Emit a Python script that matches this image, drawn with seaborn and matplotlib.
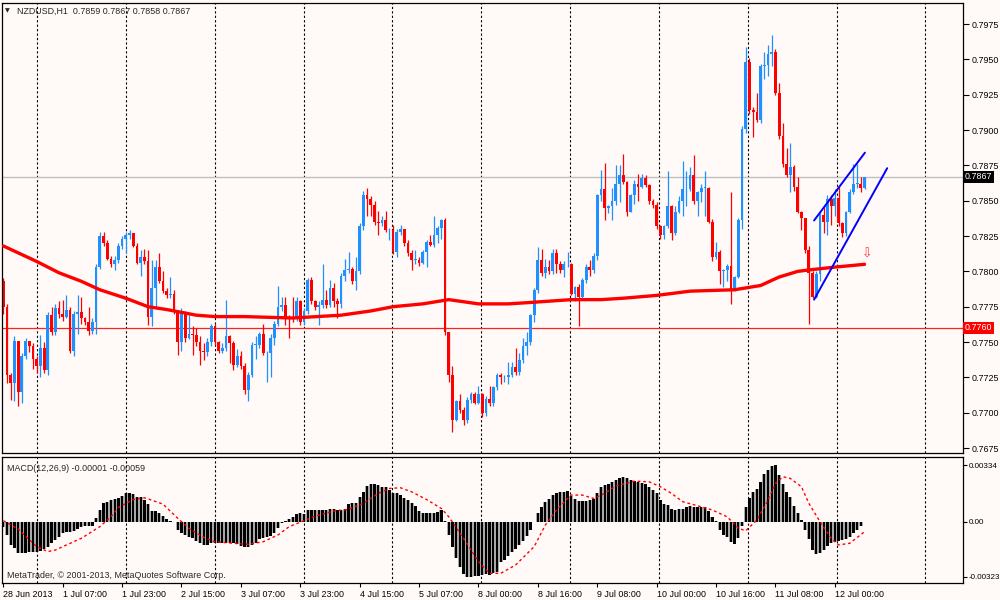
import numpy as np
import matplotlib
matplotlib.use("Agg")
import matplotlib.pyplot as plt
import matplotlib.transforms as mtransforms
import seaborn as sns

# ---- NZDUSD H1 candles
first_open = 0.7793
closes = [
    0.7775, 0.7727, 0.7721, 0.7751, 0.7715, 0.7740, 0.7751, 0.7747, 0.7738, 0.7733,
    0.7746, 0.7730, 0.7769, 0.7757, 0.7774, 0.7770, 0.7768, 0.7773, 0.7744, 0.7770,
    0.7771, 0.7767, 0.7764, 0.7758, 0.7764, 0.7803, 0.7825, 0.7820, 0.7809, 0.7805,
    0.7808, 0.7818, 0.7823, 0.7826, 0.7827, 0.7818, 0.7806, 0.7810, 0.7807, 0.7768,
    0.7788, 0.7803, 0.7793, 0.7786, 0.7783, 0.7784, 0.7771, 0.7750, 0.7770, 0.7753,
    0.7756, 0.7755, 0.7750, 0.7744, 0.7743, 0.7750, 0.7761, 0.7750, 0.7744, 0.7746,
    0.7754, 0.7749, 0.7734, 0.7740, 0.7733, 0.7716, 0.7727, 0.7748, 0.7748, 0.7756,
    0.7742, 0.7742, 0.7753, 0.7763, 0.7775, 0.7776, 0.7768, 0.7767, 0.7766, 0.7779,
    0.7764, 0.7772, 0.7794, 0.7779, 0.7775, 0.7776, 0.7780, 0.7776, 0.7788, 0.7779,
    0.7777, 0.7797, 0.7801, 0.7802, 0.7793, 0.7800, 0.7832, 0.7854, 0.7851, 0.7847,
    0.7835, 0.7834, 0.7836, 0.7829, 0.7829, 0.7814, 0.7828, 0.7830, 0.7820, 0.7813,
    0.7808, 0.7808, 0.7806, 0.7814, 0.7821, 0.7819, 0.7826, 0.7831, 0.7836, 0.7757,
    0.7727, 0.7695, 0.7708, 0.7702, 0.7695, 0.7709, 0.7713, 0.7707, 0.7713, 0.7700,
    0.7710, 0.7707, 0.7718, 0.7727, 0.7725, 0.7725, 0.7727, 0.7732, 0.7729, 0.7737,
    0.7747, 0.7750, 0.7769, 0.7787, 0.7808, 0.7799, 0.7803, 0.7800, 0.7813, 0.7805,
    0.7801, 0.7805, 0.7805, 0.7784, 0.7789, 0.7782, 0.7794, 0.7803, 0.7801, 0.7811,
    0.7854, 0.7858, 0.7845, 0.7846, 0.7850, 0.7862, 0.7868, 0.7863, 0.7842, 0.7854,
    0.7862, 0.7860, 0.7866, 0.7861, 0.7850, 0.7847, 0.7832, 0.7826, 0.7832, 0.7846,
    0.7827, 0.7842, 0.7850, 0.7858, 0.7858, 0.7868, 0.7850, 0.7856, 0.7859, 0.7859,
    0.7835, 0.7810, 0.7814, 0.7800, 0.7801, 0.7804, 0.7787, 0.7796, 0.7836, 0.7901,
    0.7948, 0.7914, 0.7913, 0.7907, 0.7945, 0.7946, 0.7954, 0.7955, 0.7926, 0.7896,
    0.7876, 0.7868, 0.7874, 0.7860, 0.7842, 0.7838, 0.7815, 0.7799, 0.7782, 0.7798,
    0.7840, 0.7835, 0.7851, 0.7846, 0.7852, 0.7834, 0.7827, 0.7842, 0.7856, 0.7862,
    0.7862, 0.7859, 0.7867,
]
highs = [
    0.7795, 0.7777, 0.7728, 0.7754, 0.7748, 0.7742, 0.7753, 0.7751, 0.7749, 0.7740,
    0.7755, 0.7750, 0.7771, 0.7775, 0.7777, 0.7779, 0.7780, 0.7783, 0.7775, 0.7772,
    0.7783, 0.7782, 0.7768, 0.7775, 0.7767, 0.7805, 0.7828, 0.7828, 0.7822, 0.7811,
    0.7811, 0.7820, 0.7825, 0.7828, 0.7829, 0.7827, 0.7820, 0.7815, 0.7816, 0.7815,
    0.7808, 0.7808, 0.7813, 0.7800, 0.7788, 0.7796, 0.7787, 0.7773, 0.7774, 0.7772,
    0.7769, 0.7761, 0.7760, 0.7754, 0.7749, 0.7753, 0.7763, 0.7763, 0.7751, 0.7749,
    0.7780, 0.7755, 0.7751, 0.7745, 0.7744, 0.7735, 0.7729, 0.7750, 0.7754, 0.7757,
    0.7763, 0.7744, 0.7756, 0.7765, 0.7790, 0.7782, 0.7782, 0.7769, 0.7782, 0.7782,
    0.7780, 0.7774, 0.7795, 0.7796, 0.7780, 0.7779, 0.7805, 0.7787, 0.7794, 0.7792,
    0.7781, 0.7799, 0.7809, 0.7814, 0.7803, 0.7810, 0.7834, 0.7857, 0.7859, 0.7853,
    0.7850, 0.7843, 0.7839, 0.7843, 0.7831, 0.7833, 0.7830, 0.7833, 0.7830, 0.7822,
    0.7815, 0.7815, 0.7810, 0.7815, 0.7822, 0.7826, 0.7839, 0.7832, 0.7837, 0.7838,
    0.7757, 0.7733, 0.7709, 0.7713, 0.7704, 0.7711, 0.7715, 0.7715, 0.7719, 0.7714,
    0.7712, 0.7719, 0.7719, 0.7728, 0.7728, 0.7727, 0.7736, 0.7736, 0.7746, 0.7742,
    0.7753, 0.7757, 0.7770, 0.7788, 0.7817, 0.7816, 0.7809, 0.7808, 0.7816, 0.7816,
    0.7807, 0.7807, 0.7814, 0.7806, 0.7790, 0.7791, 0.7795, 0.7805, 0.7808, 0.7813,
    0.7855, 0.7872, 0.7877, 0.7847, 0.7859, 0.7875, 0.7875, 0.7883, 0.7864, 0.7855,
    0.7865, 0.7869, 0.7869, 0.7868, 0.7862, 0.7851, 0.7849, 0.7833, 0.7833, 0.7871,
    0.7847, 0.7846, 0.7853, 0.7878, 0.7871, 0.7874, 0.7882, 0.7857, 0.7862, 0.7871,
    0.7860, 0.7837, 0.7821, 0.7815, 0.7802, 0.7805, 0.7856, 0.7797, 0.7838, 0.7903,
    0.7959, 0.7951, 0.7916, 0.7926, 0.7947, 0.7955, 0.7960, 0.7967, 0.7957, 0.7933,
    0.7905, 0.7887, 0.7891, 0.7875, 0.7867, 0.7843, 0.7834, 0.7818, 0.7800, 0.7800,
    0.7841, 0.7846, 0.7854, 0.7854, 0.7858, 0.7860, 0.7835, 0.7843, 0.7858, 0.7876,
    0.7876, 0.7867, 0.7867,
]
lows = [
    0.7770, 0.7721, 0.7709, 0.7708, 0.7705, 0.7707, 0.7738, 0.7743, 0.7731, 0.7728,
    0.7725, 0.7728, 0.7727, 0.7755, 0.7755, 0.7767, 0.7765, 0.7767, 0.7742, 0.7740,
    0.7756, 0.7763, 0.7762, 0.7755, 0.7756, 0.7756, 0.7802, 0.7818, 0.7808, 0.7803,
    0.7801, 0.7806, 0.7816, 0.7813, 0.7823, 0.7817, 0.7805, 0.7797, 0.7805, 0.7762,
    0.7761, 0.7775, 0.7792, 0.7785, 0.7781, 0.7781, 0.7770, 0.7741, 0.7744, 0.7750,
    0.7752, 0.7741, 0.7747, 0.7734, 0.7737, 0.7740, 0.7747, 0.7748, 0.7742, 0.7742,
    0.7744, 0.7735, 0.7730, 0.7732, 0.7731, 0.7713, 0.7708, 0.7725, 0.7738, 0.7746,
    0.7741, 0.7722, 0.7725, 0.7748, 0.7761, 0.7772, 0.7762, 0.7753, 0.7764, 0.7765,
    0.7762, 0.7762, 0.7770, 0.7777, 0.7773, 0.7762, 0.7774, 0.7774, 0.7775, 0.7775,
    0.7767, 0.7774, 0.7793, 0.7799, 0.7791, 0.7787, 0.7798, 0.7829, 0.7839, 0.7839,
    0.7833, 0.7826, 0.7832, 0.7828, 0.7822, 0.7812, 0.7810, 0.7826, 0.7818, 0.7811,
    0.7801, 0.7805, 0.7804, 0.7805, 0.7803, 0.7818, 0.7817, 0.7820, 0.7823, 0.7755,
    0.7722, 0.7686, 0.7694, 0.7700, 0.7691, 0.7693, 0.7707, 0.7706, 0.7706, 0.7697,
    0.7698, 0.7705, 0.7705, 0.7716, 0.7720, 0.7722, 0.7720, 0.7725, 0.7727, 0.7727,
    0.7735, 0.7741, 0.7748, 0.7764, 0.7785, 0.7797, 0.7795, 0.7798, 0.7798, 0.7799,
    0.7799, 0.7796, 0.7803, 0.7783, 0.7779, 0.7761, 0.7780, 0.7792, 0.7797, 0.7799,
    0.7808, 0.7850, 0.7836, 0.7841, 0.7836, 0.7847, 0.7849, 0.7862, 0.7839, 0.7842,
    0.7848, 0.7850, 0.7859, 0.7860, 0.7848, 0.7845, 0.7830, 0.7823, 0.7823, 0.7831,
    0.7822, 0.7826, 0.7841, 0.7839, 0.7846, 0.7857, 0.7848, 0.7839, 0.7849, 0.7839,
    0.7834, 0.7807, 0.7809, 0.7791, 0.7789, 0.7793, 0.7777, 0.7786, 0.7795, 0.7830,
    0.7898, 0.7911, 0.7895, 0.7906, 0.7905, 0.7936, 0.7938, 0.7945, 0.7925, 0.7894,
    0.7874, 0.7867, 0.7856, 0.7857, 0.7841, 0.7829, 0.7813, 0.7763, 0.7781, 0.7781,
    0.7793, 0.7827, 0.7826, 0.7833, 0.7839, 0.7832, 0.7824, 0.7825, 0.7841, 0.7855,
    0.7859, 0.7856, 0.7858,
]

# ---- moving average (red thick line), sampled at bar numbers
ma_bar = [0, 9, 15, 21, 26, 33, 39, 44, 52, 57, 65, 78, 91, 99, 105, 113, 120,
          128, 136, 142, 153, 161, 167, 176, 185, 197, 204, 209, 214, 217, 224, 232]
ma_val = [0.7818, 0.7807, 0.7799, 0.7793, 0.7787, 0.7781, 0.7775, 0.7773, 0.7769,
          0.7768, 0.7768, 0.7767, 0.7769, 0.7772, 0.7775, 0.7777, 0.7780, 0.7777,
          0.7777, 0.7778, 0.7780, 0.7780, 0.7781, 0.7783, 0.7786, 0.7787, 0.7790,
          0.7796, 0.7800, 0.7801, 0.7803, 0.7805]

# ---- hand drawn channel
upper_bar, upper_val = [218.4, 232.1], [0.7836, 0.7884]
lower_bar, lower_val = [218.4, 238.1], [0.7780, 0.7873]
arrow_bar, arrow_val = 232.7, 0.7812

# ---- MACD(12,26,9), in 1e-5
macd_main = [
    -29, -78, -137, -157, -186, -186, -182, -176, -176, -176,
    -172, -163, -147, -127, -108, -92, -69, -59, -59, -53,
    -45, -33, -25, -25, -25, 20, 69, 108, 118, 127,
    131, 137, 151, 167, 167, 161, 147, 143, 127, 104,
    65, 63, 49, 33, 14, 4, -4, -49, -65, -78,
    -92, -98, -112, -127, -137, -137, -127, -127, -123, -123,
    -123, -127, -123, -131, -143, -147, -147, -137, -123, -104,
    -98, -92, -84, -69, -39, -10, 4, 16, 25, 43,
    49, 45, 69, 69, 69, 69, 69, 69, 73, 74,
    69, 69, 73, 102, 108, 108, 147, 176, 210, 220,
    220, 216, 206, 202, 186, 167, 171, 157, 137, 127,
    108, 92, 63, 53, 53, 53, 53, 59, 69, 4,
    -78, -147, -216, -265, -310, -323, -323, -321, -318, -314,
    -308, -314, -304, -294, -235, -225, -202, -176, -163, -137,
    -112, -84, -49, -2, 53, 88, 118, 133, 157, 171,
    176, 176, 182, 151, 131, 123, 122, 123, 127, 131,
    171, 202, 216, 221, 235, 245, 255, 265, 255, 245,
    239, 235, 229, 221, 206, 186, 171, 127, 104, 98,
    73, 69, 73, 74, 84, 92, 88, 84, 84, 84,
    65, 29, 2, -49, -78, -92, -118, -131, -98, -25,
    84, 137, 176, 190, 235, 280, 304, 327, 334, 274,
    220, 176, 147, 92, 53, 10, -49, -104, -167, -192,
    -182, -167, -143, -127, -118, -112, -108, -104, -92, -69,
    -49, -25, -1,
]
signal_bar = [0, 4, 9, 12, 14, 17, 21, 26, 29, 31, 35, 38, 40, 43, 47, 50, 54, 57,
              62, 66, 70, 74, 77, 81, 84, 89, 93, 97, 101, 104, 107, 110, 114, 118,
              120, 124, 128, 131, 134, 138, 143, 146, 149, 152, 153, 156, 159, 162,
              165, 170, 174, 177, 180, 183, 188, 191, 195, 198, 200, 203, 206, 208,
              210, 212, 215, 217, 220, 223, 225, 228, 232]
signal_val = [6, -43, -147, -176, -167, -137, -98, -29, 29, 84, 131, 141, 127, 104,
              20, -39, -92, -118, -127, -133, -118, -78, -29, 6, 33, 63, 73, 108,
              167, 196, 200, 176, 131, 78, 29, -98, -235, -304, -304, -255, -147,
              -20, 69, 137, 157, 157, 137, 167, 210, 239, 235, 206, 167, 118, 88,
              69, 29, -39, -53, 10, 127, 225, 265, 255, 206, 108, 0, -98, -137,
              -127, -59]

price_ticks = [0.7975, 0.7950, 0.7925, 0.7900, 0.7875, 0.7850, 0.7825, 0.7800,
               0.7775, 0.7750, 0.7725, 0.7700, 0.7675]
macd_ticks = [0.00334, 0.0, -0.00323]
macd_tick_labels = ["0.00334", "0.00", "-0.00323"]
time_labels = ["28 Jun 2013", "1 Jul 07:00", "1 Jul 23:00", "2 Jul 15:00",
               "3 Jul 07:00", "3 Jul 23:00", "4 Jul 15:00", "5 Jul 07:00",
               "8 Jul 00:00", "8 Jul 16:00", "9 Jul 08:00", "10 Jul 00:00",
               "10 Jul 16:00", "11 Jul 08:00", "12 Jul 00:00"]
title = "NZDUSD,H1  0.7859 0.7867 0.7858 0.7867"
macd_title = "MACD(12,26,9) -0.00001 -0.00059"
footer = "MetaTrader, \u00a9 2001-2013, MetaQuotes Software Corp."

# ---- style
bg = "#fffaf8"
bull_col, bear_col = "#1e90ff", "#ff0000"
sns.set_style("white")
plt.rcParams["font.family"] = ["Liberation Sans", "DejaVu Sans"]
plt.rcParams["axes.linewidth"] = 0.9
fs = 6.4

c = np.array(closes)
o = np.r_[first_open, c[:-1]]
h = np.maximum(np.array(highs), np.maximum(o, c))
l = np.minimum(np.array(lows), np.minimum(o, c))
bars = np.arange(len(c))
cols = np.where(c >= o, bull_col, bear_col)

fig = plt.figure(figsize=(10, 6), dpi=100, facecolor=bg)
ax = fig.add_axes([0.0023, 0.2455, 0.961, 0.75], facecolor=bg)
ax2 = fig.add_axes([0.0023, 0.0278, 0.961, 0.21], facecolor=bg)
xlim = (-0.27, 258.6)
grid_pos = 9.1 + 23.93 * np.arange(11)

for a in (ax, ax2):
    for g in grid_pos:
        a.axvline(g, color="black", lw=0.8, ls=(0, (2, 2)), zorder=0.5)
    for s in a.spines.values():
        s.set_color("black")
    a.set_xlim(*xlim)
    a.yaxis.tick_right()
    a.tick_params(axis="y", length=4, width=0.8, labelsize=fs, pad=2,
                  direction="out", colors="black")

# ---- price panel
ax.axhline(0.7867, color="#c0c0c0", lw=1.0, zorder=1)
ax.axhline(0.7760, color="#ff2020", lw=0.9, zorder=1)
ax.vlines(bars, l, h, colors=cols, lw=0.9, zorder=2)
ax.bar(bars, np.maximum(np.abs(c - o), 0.00004), bottom=np.minimum(o, c),
       width=0.74, color=cols, lw=0, zorder=2.5)
sns.lineplot(x=ma_bar, y=ma_val, ax=ax, color="#ff0000", lw=2.4, zorder=3)
ax.plot(upper_bar, upper_val, color="#0000ff", lw=1.4, zorder=4)
ax.plot(lower_bar, lower_val, color="#0000ff", lw=1.4, zorder=4)
ax.text(arrow_bar, arrow_val, "\u21e9", color="#ff3030", fontsize=9,
        ha="center", va="center", family=["DejaVu Sans"], zorder=4)

ax.set_ylim(0.76717, 0.79901)
ax.set_xticks([])
ax.set_yticks(price_ticks)
ax.set_yticklabels([f"{v:.4f}" for v in price_ticks])
ax.set_xlabel("")
ax.set_ylabel("")

ytrans = mtransforms.blended_transform_factory(ax.transAxes, ax.transData)
ax.text(1.0015, 0.7867, "0.7867", transform=ytrans, fontsize=fs, color="white",
        ha="left", va="center",
        bbox=dict(boxstyle="square,pad=0.18", fc="black", ec="none"))
ax.text(1.0015, 0.7760, "0.7760", transform=ytrans, fontsize=fs, color="white",
        ha="left", va="center",
        bbox=dict(boxstyle="square,pad=0.18", fc="#ff0000", ec="none"))
ax.text(0.003, 0.988, "\u25bc", transform=ax.transAxes, fontsize=4.5,
        va="top", ha="left", family=["DejaVu Sans"])
ax.text(0.0155, 0.99, title, transform=ax.transAxes, fontsize=fs,
        va="top", ha="left")

# ---- MACD panel
m = np.array(macd_main) * 1e-5
ax2.bar(bars, m, width=1.0, color="#a8a8a8", lw=0, zorder=1)
ax2.bar(bars, m, width=0.62, color="black", lw=0, zorder=2)
sns.lineplot(x=signal_bar, y=np.array(signal_val) * 1e-5, ax=ax2,
             color="#ff0000", lw=1.0, linestyle=(0, (2, 2)), zorder=3)
ax2.set_ylim(-0.003629, 0.003794)
ax2.set_yticks(macd_ticks)
ax2.set_yticklabels(macd_tick_labels)
ax2.tick_params(axis="y", labelsize=5.8, pad=1, length=3)
ax2.set_xticks(np.arange(len(time_labels)) * 16)
ax2.set_xticklabels(time_labels)
ax2.tick_params(axis="x", length=3, width=0.8, labelsize=fs, pad=1.5,
                direction="out", colors="black", bottom=True)
for lbl in ax2.get_xticklabels():
    lbl.set_horizontalalignment("left")
ax2.set_xlabel("")
ax2.set_ylabel("")
ax2.text(0.005, 0.95, macd_title, transform=ax2.transAxes, fontsize=fs,
         va="top", ha="left")
ax2.text(0.005, 0.03, footer, transform=ax2.transAxes, fontsize=fs,
         va="bottom", ha="left")

fig.savefig("out.png", dpi=100, facecolor=bg)
